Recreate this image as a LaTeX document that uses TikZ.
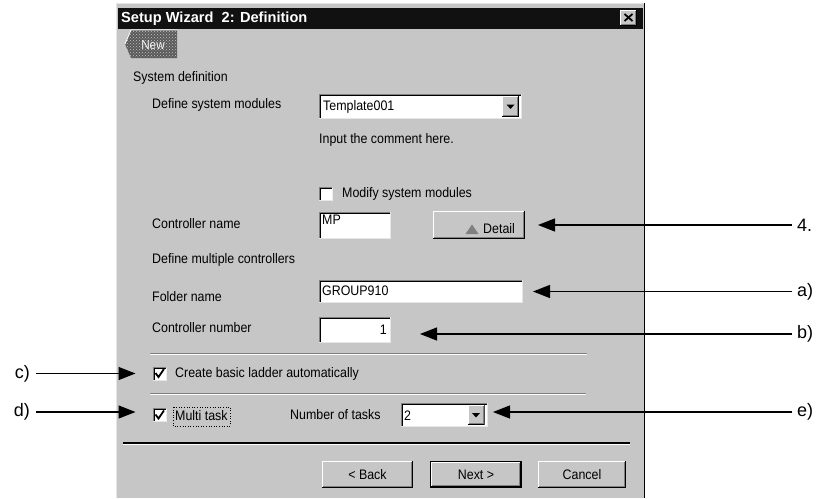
\documentclass[tikz,border=0pt]{standalone}
\usepackage{fontspec}
\setmainfont{Liberation Sans}
\newfontfamily\uifont[FakeStretch=0.9]{Liberation Sans}
\usetikzlibrary{arrows.meta,patterns}
\definecolor{bg}{HTML}{C6C6C6}
\definecolor{dk}{HTML}{808080}
\definecolor{lt}{HTML}{E6E6E6}
\definecolor{tb}{HTML}{111111}
\begin{document}
\begin{tikzpicture}[x=1pt,y=-1pt,
  ui/.style={font=\uifont\fontsize{13.8}{16}\selectfont, anchor=west, inner sep=0pt},
  btxt/.style={font=\uifont\fontsize{13.8}{16}\selectfont},
  lab/.style={font=\fontsize{18}{20}\selectfont, inner sep=0pt},
  conn/.style={line width=1.3pt, -{Triangle[length=17pt,width=13pt]}},
  box/.style={inner sep=0pt, outer sep=0pt},
  sunken/.style={box, fill=white, path picture={
     \draw[dk, line width=1pt] ([shift={(0.5pt,0pt)}]path picture bounding box.south west) |- ([shift={(0pt,-0.5pt)}]path picture bounding box.north east);
     \draw[black, line width=1pt] ([shift={(1.5pt,1pt)}]path picture bounding box.south west) |- ([shift={(-1pt,-1.5pt)}]path picture bounding box.north east);
     \draw[lt, line width=1pt] ([shift={(0pt,0.5pt)}]path picture bounding box.south west) -| ([shift={(-0.5pt,0pt)}]path picture bounding box.north east);
  }},
  raised/.style={box, fill=bg, path picture={
     \draw[white, line width=1pt] ([shift={(0.5pt,0pt)}]path picture bounding box.south west) |- ([shift={(0pt,-0.5pt)}]path picture bounding box.north east);
     \draw[black, line width=1pt] ([shift={(0pt,0.5pt)}]path picture bounding box.south west) -| ([shift={(-0.5pt,0pt)}]path picture bounding box.north east);
     \draw[dk, line width=1pt] ([shift={(1pt,1.5pt)}]path picture bounding box.south west) -| ([shift={(-1.5pt,-1pt)}]path picture bounding box.north east);
  }},
  etch/.style={dk, line width=1pt},
  etchw/.style={white, line width=1pt}
]
\useasboundingbox (0,0) rectangle (821,498);
\fill[white] (0,0) rectangle (821,498);
% dialog body
\fill[bg] (116,3) rectangle (645,498);
\draw[lt, line width=1pt] (116.5,498) -- (116.5,3.5) -- (644,3.5);
\draw[black, line width=1.5pt] (644.5,3) -- (644.5,498);
% title bar
\fill[tb] (118,8) rectangle (643,28.5);
\node[anchor=west, inner sep=0pt, text=white, font=\bfseries\fontsize{14.6}{16}\selectfont] (title) at (121,18.5) {Setup Wizard\ \ 2: Definition};
\node[raised, minimum width=17pt, minimum height=16pt] (close) at (628.5,17.5) {};
\draw[black, line width=1.8pt] ([shift={(-4pt,3.5pt)}]close.center) -- ([shift={(4pt,-3.5pt)}]close.center);
\draw[black, line width=1.8pt] ([shift={(-4pt,-3.5pt)}]close.center) -- ([shift={(4pt,3.5pt)}]close.center);
% New button (disabled)
\fill[black!65] (125,44) -- (131,30) -- (177,30) -- (177,58) -- (131,58) -- cycle;
\fill[pattern=crosshatch dots, pattern color=bg] (125,44) -- (131,30) -- (177,30) -- (177,58) -- (131,58) -- cycle;
\draw[white, line width=0.8pt] (125,44) -- (131,30) -- (177,30);
\node[inner sep=0pt, text=white!85!bg, font=\uifont\fontsize{13}{14}\selectfont] (newb) at (153,45) {New};
% texts
\node[ui] (sysdef) at (133,78) {System definition};
\node[ui] (defmod) at (152,105) {Define system modules};
\node[sunken, minimum width=203pt, minimum height=25pt] (tmpl) at (420.5,106.5) {};
\node[ui] (tmpltxt) at (323,106.5) {Template001};
\node[raised, minimum width=17pt, minimum height=21pt] (tmplbtn) at (510.5,106.5) {};
\fill[black] ([shift={(-4pt,2pt)}]tmplbtn.center) -- ([shift={(4pt,2pt)}]tmplbtn.center) -- ([shift={(0pt,-2.5pt)}]tmplbtn.center) -- cycle;
\node[ui] (comment) at (319,140) {Input the comment here.};
\node[sunken, minimum width=14pt, minimum height=14pt] (cbm) at (325.5,194) {};
\node[ui] (modtxt) at (342,193.5) {Modify system modules};
\node[ui] (ctrlname) at (152,224) {Controller name};
\node[sunken, minimum width=72pt, minimum height=27pt] (mp) at (355,225.5) {};
\node[ui] (mptxt) at (322,220) {MP};
\node[raised, minimum width=92pt, minimum height=28pt] (detail) at (479,225) {};
\fill[dk] (465.5,234) -- (478.5,234) -- (472,224.5) -- cycle;
\node[ui] (detailtxt) at (483,229) {Detail};
\node[ui] (defmult) at (152,260) {Define multiple controllers};
\node[ui] (foldname) at (152,297) {Folder name};
\node[sunken, minimum width=204pt, minimum height=23pt] (folder) at (421,291.5) {};
\node[ui] (foldtxt) at (322,291) {GROUP910};
\node[ui] (ctrlnum) at (152,328) {Controller number};
\node[sunken, minimum width=72pt, minimum height=26pt] (num) at (355,330) {};
\node[ui, anchor=east] (numtxt) at (387,330) {1};
% separators
\draw[etch] (150,353.5) -- (587,353.5);
\draw[etchw] (150,354.5) -- (587,354.5);
\node[sunken, minimum width=14pt, minimum height=14pt] (cbc) at (159.5,373.5) {};
\draw[black, line width=1.8pt] (155.5,373) -- (158.5,377) -- (164,369);
\node[ui] (ladder) at (175,374) {Create basic ladder automatically};
\draw[etch] (150,393.5) -- (586,393.5);
\draw[etchw] (150,394.5) -- (586,394.5);
\node[sunken, minimum width=14pt, minimum height=14pt] (cbd) at (159.5,415) {};
\draw[black, line width=1.8pt] (155.5,414.5) -- (158.5,418.5) -- (164,410.5);
\node[ui] (multi) at (175,415.5) {Multi task};
\draw[black, line width=0.6pt, dotted] (173,407) rectangle (230,426);
\node[ui] (ntasks) at (290,415) {Number of tasks};
\node[sunken, minimum width=87pt, minimum height=24pt] (tasks) at (444.5,415) {};
\node[ui] (taskstxt) at (404,415.5) {2};
\node[raised, minimum width=17pt, minimum height=20pt] (tasksbtn) at (476,415) {};
\fill[black] ([shift={(-4pt,2pt)}]tasksbtn.center) -- ([shift={(4pt,2pt)}]tasksbtn.center) -- ([shift={(0pt,-2.5pt)}]tasksbtn.center) -- cycle;
\draw[black, line width=1.3pt] (123,443) -- (630,443);
\draw[etchw] (123,444.5) -- (630,444.5);
% buttons
\node[raised, minimum width=91pt, minimum height=27pt, btxt] (back) at (367.5,474.5) {< Back};
\node[raised, minimum width=90pt, minimum height=25pt, btxt] (next) at (476,474.5) {Next >};
\draw[black, line width=1pt] (430.5,461.5) rectangle (521.5,487.5);
\node[raised, minimum width=88pt, minimum height=27pt, btxt] (cancel) at (582,474.5) {Cancel};
% callout labels
\node[lab, anchor=west] (l4) at (797,225) {4.};
\node[lab, anchor=west] (la) at (797,291.5) {a)};
\node[lab, anchor=west] (lb) at (797,334) {b)};
\node[lab, anchor=west] (le) at (797,412) {e)};
\node[lab, anchor=east] (lc) at (30,373.5) {c)};
\node[lab, anchor=east] (ld) at (30,412) {d)};
\draw[conn, shorten <=5pt, shorten >=13pt] (l4.west) -- (detail.east);
\draw[conn, shorten <=5pt, shorten >=10pt] (la.west) -- (folder.east);
\draw[conn, shorten <=5pt, shorten >=29pt] (lb.west) -- (lb.west -| num.east);
\draw[conn, shorten <=5pt, shorten >=5pt] (le.west) -- (le.west -| tasks.east);
\draw[conn, shorten <=6pt, shorten >=17pt] (lc.east) -- (cbc.west);
\draw[conn, shorten <=6pt, shorten >=17pt] (ld.east) -- (ld.east -| cbd.west);
\end{tikzpicture}
\end{document}
